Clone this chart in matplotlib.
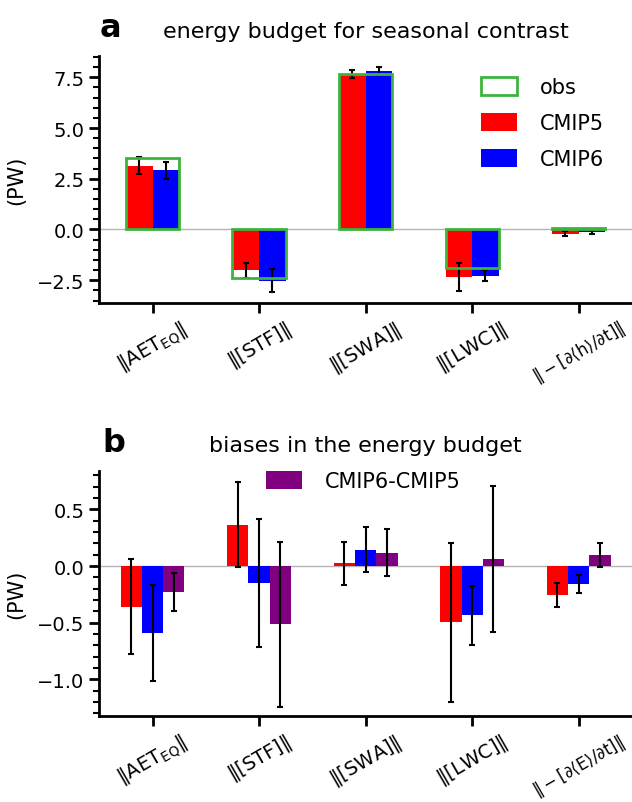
import numpy as np
import matplotlib
matplotlib.use("Agg")
import matplotlib.pyplot as plt
from matplotlib.ticker import MultipleLocator, AutoMinorLocator

plt.rcParams['font.family'] = ['DejaVu Sans']
plt.rcParams['mathtext.fontset'] = 'dejavusans'

# panel a: energy budget for seasonal contrast (PW)
labels_a = [r'$\Vert\mathrm{AET}_{\mathrm{EQ}}\Vert$', r'$\Vert[\mathrm{STF}]\Vert$',
            r'$\Vert[\mathrm{SWA}]\Vert$', r'$\Vert[\mathrm{LWC}]\Vert$',
            r'$\Vert-[\partial\langle \mathrm{h}\rangle/\partial \mathrm{t}]\Vert$']
obs = [3.50, -2.38, 7.68, -1.89, 0.08]
cmip5 = [3.14, -2.01, 7.65, -2.35, -0.21]
cmip5_err = [0.42, 0.37, 0.20, 0.70, 0.12]
cmip6 = [2.91, -2.52, 7.81, -2.29, -0.12]
cmip6_err = [0.43, 0.56, 0.20, 0.27, 0.10]

# panel b: biases in the energy budget (PW)
labels_b = [r'$\Vert\mathrm{AET}_{\mathrm{EQ}}\Vert$', r'$\Vert[\mathrm{STF}]\Vert$',
            r'$\Vert[\mathrm{SWA}]\Vert$', r'$\Vert[\mathrm{LWC}]\Vert$',
            r'$\Vert-[\partial\langle \mathrm{E}\rangle/\partial \mathrm{t}]\Vert$']
bias5 = [-0.36, 0.365, 0.024, -0.497, -0.256]
bias5_err = [0.42, 0.375, 0.19, 0.70, 0.107]
bias6 = [-0.59, -0.147, 0.144, -0.435, -0.156]
bias6_err = [0.42, 0.565, 0.20, 0.26, 0.08]
diff = [-0.23, -0.515, 0.118, 0.065, 0.097]
diff_err = [0.165, 0.73, 0.205, 0.645, 0.11]

RED, BLUE, PURPLE, GREEN = '#ff0000', '#0000ff', '#800080', '#3cb43c'
err_kw = dict(ecolor='black', elinewidth=1.5, capsize=2, capthick=1.5)


def style_axes(ax, major, labels):
    for s in ['top', 'right']:
        ax.spines[s].set_visible(False)
    for s in ['left', 'bottom']:
        ax.spines[s].set_linewidth(2)
    ax.yaxis.set_major_locator(MultipleLocator(major))
    ax.yaxis.set_minor_locator(AutoMinorLocator(5))
    ax.tick_params(axis='both', which='major', length=7, width=2, labelsize=14)
    ax.tick_params(axis='y', which='minor', length=4, width=1.5)
    ax.axhline(0, color='0.7', lw=1, zorder=0)
    ax.set_ylabel('(PW)', fontsize=15, labelpad=8)
    ax.set_xlim(-0.5, 4.5)
    ax.set_xticks(range(len(labels)))
    ticklabels = ax.set_xticklabels(labels, rotation=30)
    # the last label is long, keep it inside the figure
    ticklabels[-1].set_fontsize(12)


fig = plt.figure(figsize=(6.32, 8.03), dpi=100)

# ---- panel a
ax1 = fig.add_axes([0.157, 0.622, 0.843, 0.307])
x = np.arange(len(obs))
ax1.bar(x - 0.125, cmip5, 0.25, color=RED, yerr=cmip5_err, error_kw=err_kw, label='CMIP5', zorder=2)
ax1.bar(x + 0.125, cmip6, 0.25, color=BLUE, yerr=cmip6_err, error_kw=err_kw, label='CMIP6', zorder=2)
ax1.bar(x, obs, 0.5, fill=False, edgecolor=GREEN, linewidth=2, label='obs', zorder=3)
style_axes(ax1, 2.5, labels_a)
ax1.set_ylim(-3.6, 8.55)
ax1.set_title('energy budget for seasonal contrast', fontsize=16, pad=14)
h, l = ax1.get_legend_handles_labels()
ax1.legend([h[2], h[0], h[1]], [l[2], l[0], l[1]], loc='upper left',
           bbox_to_anchor=(0.70, 0.95), frameon=False, fontsize=15,
           handlelength=1.75, handleheight=1.0, labelspacing=0.75,
           handletextpad=1.1, borderaxespad=0)
fig.text(0.158, 0.954, 'a', fontsize=23, fontweight='bold')

# ---- panel b
ax2 = fig.add_axes([0.157, 0.1075, 0.843, 0.305])
ax2.bar(x - 0.2, bias5, 0.2, color=RED, yerr=bias5_err, error_kw=err_kw, zorder=2)
ax2.bar(x, bias6, 0.2, color=BLUE, yerr=bias6_err, error_kw=err_kw, zorder=2)
ax2.bar(x + 0.2, diff, 0.2, color=PURPLE, yerr=diff_err, error_kw=err_kw,
        label='CMIP6-CMIP5', zorder=2)
style_axes(ax2, 0.5, labels_b)
ax2.set_ylim(-1.32, 0.84)
ax2.set_title('biases in the energy budget', fontsize=16, pad=14)
ax2.legend(loc='upper left', bbox_to_anchor=(0.297, 1.035), frameon=False, fontsize=15,
           handlelength=1.75, handleheight=1.0, handletextpad=1.1, borderaxespad=0)
fig.text(0.162, 0.437, 'b', fontsize=23, fontweight='bold')

fig.savefig('out.png', dpi=100)
